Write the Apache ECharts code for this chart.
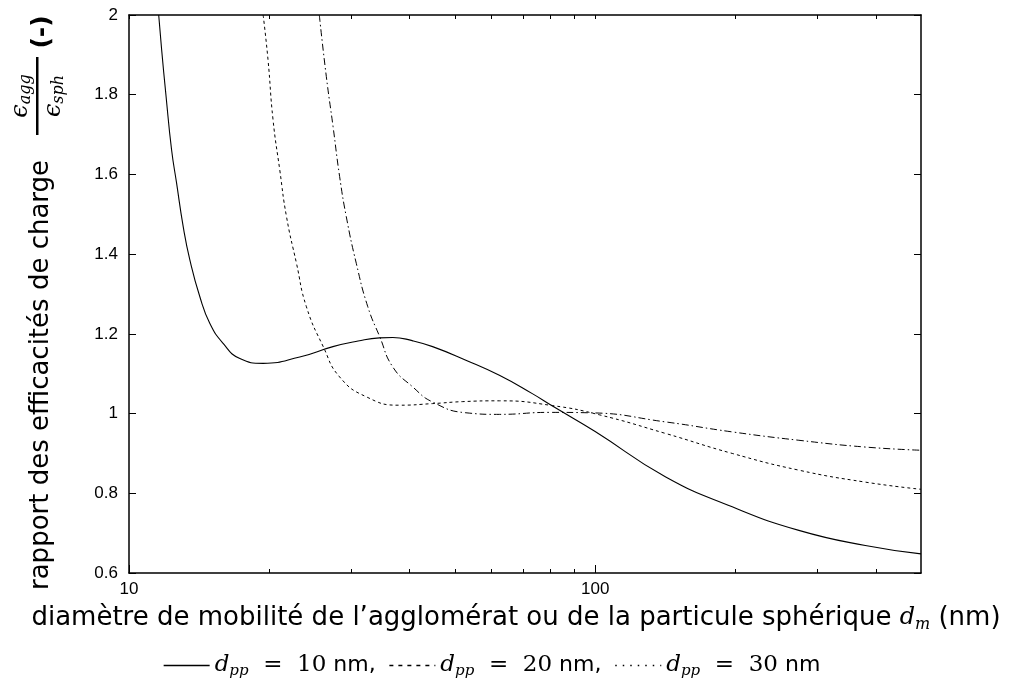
<!DOCTYPE html>
<html>
<head>
<meta charset="utf-8">
<script src="https://cdn.jsdelivr.net/npm/echarts@6/dist/echarts.min.js"></script>
<style>
html, body { margin: 0; padding: 0; background: #fff; }
#chart { width: 1015px; height: 684px; }
</style>
</head>
<body>
<div id="chart"></div>
<script>
// valeurs : diamètre de mobilité (nm) -> rapport des efficacités
const dm10 = [11.58, 11.75, 12.0, 12.34, 12.65, 13.07, 13.51, 14.19, 14.91, 15.92, 17.29, 19.4, 23.24, 27.38, 31.0, 34.47, 36.8, 40.5, 44.8, 52.8, 62.3, 73.3, 81.0, 100, 141.7, 196.8, 273.5, 379.8, 500];
const ratio10 = [2.0, 1.913, 1.80, 1.662, 1.578, 1.469, 1.385, 1.293, 1.226, 1.176, 1.138, 1.126, 1.142, 1.168, 1.182, 1.190, 1.191, 1.183, 1.168, 1.134, 1.096, 1.05, 1.019, 0.955, 0.841, 0.766, 0.707, 0.669, 0.648];

const dm20 = [19.4, 19.87, 20.37, 21.06, 21.77, 22.87, 24.02, 26.1, 28.3, 32.3, 38.0, 44.8, 52.0, 62.3, 81.0, 102, 141.7, 196.8, 273.5, 379.8, 500];
const ratio20 = [2.0, 1.888, 1.737, 1.611, 1.494, 1.377, 1.268, 1.168, 1.092, 1.042, 1.021, 1.025, 1.030, 1.032, 1.020, 0.997, 0.950, 0.900, 0.858, 0.828, 0.810];

const dm30 = [25.6, 26.5, 27.4, 28.3, 29.25, 30.73, 32.53, 34.5, 36.8, 40.6, 44.8, 52.8, 62.3, 79.7, 97, 141.7, 196.8, 273.5, 379.8, 500];
const ratio30 = [2.0, 1.846, 1.720, 1.595, 1.494, 1.377, 1.268, 1.193, 1.117, 1.067, 1.029, 1.002, 0.998, 1.003, 1.002, 0.979, 0.954, 0.933, 0.916, 0.908];

const dppValues = ['10', '20', '30'];
const xMajorTicks = [10, 100];
const xMinorTicks = [20, 30, 40, 50, 60, 70, 80, 90, 200, 300, 400];
const xMin = 10, xMax = 500;

const black = '#000';
const mathFont = 'DejaVu Serif';

function pairs(xs, ys) {
  return xs.map((x, i) => [x, ys[i]]);
}

// axes "value" en log10 uniquement pour placer les graduations comme gnuplot
function tickAxis(position, ticks, len, showLine) {
  return {
    type: 'value',
    position: position,
    min: Math.log10(xMin),
    max: Math.log10(xMax),
    axisLine: { show: showLine, lineStyle: { color: black, width: 1.5 } },
    axisLabel: { show: false },
    splitLine: { show: false },
    axisTick: {
      show: true, inside: true, length: len,
      customValues: ticks.map(v => Math.log10(v)),
      lineStyle: { color: black, width: 1 }
    }
  };
}

const chart = echarts.init(document.getElementById('chart'));

const option = {
  backgroundColor: '#fff',
  animation: false,
  grid: { left: 129, right: 94, top: 15, bottom: 111, containLabel: false },
  xAxis: [
    {
      type: 'log',
      logBase: 10,
      min: xMin,
      max: xMax,
      position: 'bottom',
      axisLine: { show: true, lineStyle: { color: black, width: 1.5 } },
      axisTick: { show: false },
      splitLine: { show: false },
      axisLabel: { color: black, fontFamily: 'Liberation Sans', fontSize: 17, margin: 8, showMaxLabel: false },
      name: 'diamètre de mobilité de l’agglomérat ou de la particule sphérique {m|d}{s|m} (nm)',
      nameLocation: 'middle',
      nameGap: 30,
      nameTextStyle: {
        color: black, fontFamily: 'DejaVu Sans', fontSize: 26, padding: [0, 18, 0, 0],
        rich: {
          m: { fontFamily: mathFont, fontStyle: 'italic', fontSize: 24, color: black, lineHeight: 30 },
          s: { fontFamily: mathFont, fontStyle: 'italic', fontSize: 16, color: black, verticalAlign: 'bottom', lineHeight: 16 }
        }
      }
    },
    tickAxis('bottom', xMinorTicks, 4, false),
    tickAxis('bottom', xMajorTicks, 8, false),
    tickAxis('top', xMajorTicks.concat(xMinorTicks), 4, true)
  ],
  yAxis: [
    {
      type: 'value',
      min: 0.6,
      max: 2,
      interval: 0.2,
      position: 'left',
      axisLine: { show: true, lineStyle: { color: black, width: 1.5 } },
      axisTick: { show: true, inside: true, length: 7, lineStyle: { color: black } },
      axisLabel: { color: black, fontFamily: 'Liberation Sans', fontSize: 17, margin: 11 },
      splitLine: { show: false }
    },
    {
      type: 'value',
      min: 0.6,
      max: 2,
      interval: 0.2,
      position: 'right',
      axisLine: { show: true, lineStyle: { color: black, width: 1.5 } },
      axisTick: { show: true, inside: true, length: 7, lineStyle: { color: black } },
      axisLabel: { show: false },
      splitLine: { show: false }
    }
  ],
  legend: {
    left: 158,
    top: 649,
    itemWidth: 46,
    itemHeight: 10,
    itemGap: 13,
    itemStyle: { opacity: 0 },
    data: [
      { name: 'dpp10', lineStyle: { width: 1.3 } },
      { name: 'dpp20', lineStyle: { type: [4, 5], width: 1.3 } },
      { name: 'dpp30', lineStyle: { type: [1.5, 6], width: 1.6 } }
    ],
    formatter: function (name) {
      const i = ['dpp10', 'dpp20', 'dpp30'].indexOf(name);
      return '{m|d}{s|pp}{e|  =  ' + dppValues[i] + '} nm' + (i < 2 ? ',' : '');
    },
    textStyle: {
      color: black, fontFamily: 'DejaVu Sans', fontSize: 22,
      rich: {
        m: { fontFamily: mathFont, fontStyle: 'italic', fontSize: 23, color: black, lineHeight: 26 },
        s: { fontFamily: mathFont, fontStyle: 'italic', fontSize: 15, color: black, verticalAlign: 'bottom', lineHeight: 14 },
        e: { fontFamily: mathFont, fontSize: 23, color: black, lineHeight: 26 }
      }
    }
  },
  graphic: [
    {
      type: 'group',
      x: 0,
      y: 590,
      rotation: Math.PI / 2,
      children: [
        {
          type: 'text',
          style: { text: 'rapport des efficacités de charge', x: 0, y: 41, fill: black, font: '26px "DejaVu Sans"', verticalAlign: 'middle' }
        },
        {
          type: 'text',
          style: {
            text: '{e|ϵ}{s|agg}', x: 494, y: 21, align: 'center', verticalAlign: 'middle',
            rich: {
              e: { fontFamily: mathFont, fontStyle: 'italic', fontSize: 24, fill: black, lineHeight: 26 },
              s: { fontFamily: mathFont, fontStyle: 'italic', fontSize: 16, fill: black, verticalAlign: 'bottom', lineHeight: 15 }
            }
          }
        },
        { type: 'rect', shape: { x: 455, y: 36, width: 78, height: 2.5 }, style: { fill: black } },
        {
          type: 'text',
          style: {
            text: '{e|ϵ}{s|sph}', x: 494, y: 54, align: 'center', verticalAlign: 'middle',
            rich: {
              e: { fontFamily: mathFont, fontStyle: 'italic', fontSize: 24, fill: black, lineHeight: 26 },
              s: { fontFamily: mathFont, fontStyle: 'italic', fontSize: 16, fill: black, verticalAlign: 'bottom', lineHeight: 15 }
            }
          }
        },
        {
          type: 'text',
          style: { text: '(-)', x: 558, y: 42, align: 'center', fill: black, font: 'bold 25px "DejaVu Sans"', verticalAlign: 'middle' }
        }
      ]
    }
  ],
  series: [
    {
      name: 'dpp10', type: 'line', data: pairs(dm10, ratio10),
      symbol: 'none', smooth: 0.5, clip: true,
      lineStyle: { color: black, width: 1.1, type: 'solid' }, itemStyle: { color: black }
    },
    {
      name: 'dpp20', type: 'line', data: pairs(dm20, ratio20),
      symbol: 'none', smooth: 0.5, clip: true,
      lineStyle: { color: black, width: 1, type: [3, 3] }, itemStyle: { color: black }
    },
    {
      name: 'dpp30', type: 'line', data: pairs(dm30, ratio30),
      symbol: 'none', smooth: 0.5, clip: true,
      lineStyle: { color: black, width: 1, type: [7, 3, 1.5, 3] }, itemStyle: { color: black }
    }
  ]
};

chart.setOption(option);
</script>
</body>
</html>
